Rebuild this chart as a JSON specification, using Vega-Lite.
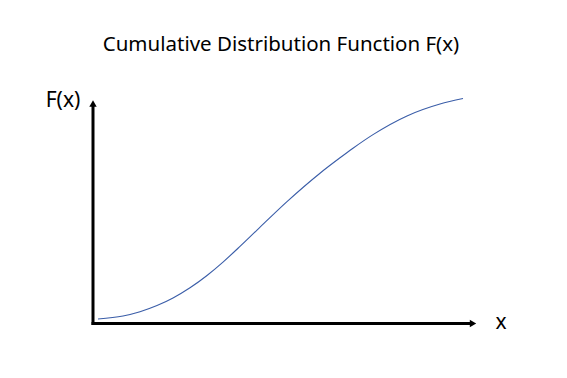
{
  "$schema": "https://vega.github.io/schema/vega-lite/v6.json",
  "width": 567,
  "height": 378,
  "padding": 0,
  "autosize": {"type": "fit", "contains": "padding"},
  "config": {"view": {"stroke": null}},
  "encoding": {
    "x": {"field": "x", "type": "quantitative", "scale": {"domain": [-93, 474], "nice": false, "zero": false}, "axis": null},
    "y": {"field": "y", "type": "quantitative", "scale": {"domain": [-54.5, 323.5], "nice": false, "zero": false}, "axis": null}
  },
  "layer": [
    {
      "data": {"values": [
        {"x": 5, "y": 4.5}, {"x": 30, "y": 7.5}, {"x": 47, "y": 11.75}, {"x": 64, "y": 17.9},
        {"x": 80, "y": 25.5}, {"x": 97, "y": 35.7}, {"x": 114, "y": 48.0}, {"x": 130, "y": 61.4},
        {"x": 147, "y": 77.1}, {"x": 164, "y": 93.4}, {"x": 194, "y": 121.9}, {"x": 227, "y": 150.3},
        {"x": 247, "y": 165.7}, {"x": 260, "y": 175.3}, {"x": 280, "y": 188.9}, {"x": 314, "y": 207.6},
        {"x": 347, "y": 219.5}, {"x": 370, "y": 225}
      ]},
      "mark": {"type": "line", "interpolate": "monotone", "color": "#3A5DA8", "strokeWidth": 1.1}
    },
    {
      "data": {"values": [{"x": 0, "y": -1.5, "x2": 0, "y2": 218}]},
      "mark": {"type": "rule", "color": "black", "strokeWidth": 3},
      "encoding": {"x2": {"field": "x2"}, "y2": {"field": "y2"}}
    },
    {
      "data": {"values": [{"x": -1.5, "y": 0, "x2": 377, "y2": 0}]},
      "mark": {"type": "rule", "color": "black", "strokeWidth": 3},
      "encoding": {"x2": {"field": "x2"}, "y2": {"field": "y2"}}
    },
    {
      "data": {"values": [{"x": 0, "y": 220}]},
      "mark": {"type": "point", "shape": "triangle-up", "filled": true, "color": "black", "size": 55, "opacity": 1}
    },
    {
      "data": {"values": [{"x": 380, "y": 0}]},
      "mark": {"type": "point", "shape": "triangle-right", "filled": true, "color": "black", "size": 55, "opacity": 1}
    },
    {
      "data": {"values": [
        {"x": 188, "y": 278.5, "label": "Cumulative Distribution Function F(x)"}
      ]},
      "mark": {"type": "text", "font": "Noto Sans", "fontSize": 20.5, "color": "black", "baseline": "middle", "align": "center"},
      "encoding": {"text": {"field": "label"}}
    },
    {
      "data": {"values": [
        {"x": -30, "y": 222.5, "label": "F(x)"},
        {"x": 408, "y": 0.5, "label": "x"}
      ]},
      "mark": {"type": "text", "font": "Noto Sans", "fontSize": 21, "color": "black", "baseline": "middle", "align": "center"},
      "encoding": {"text": {"field": "label"}}
    }
  ]
}
